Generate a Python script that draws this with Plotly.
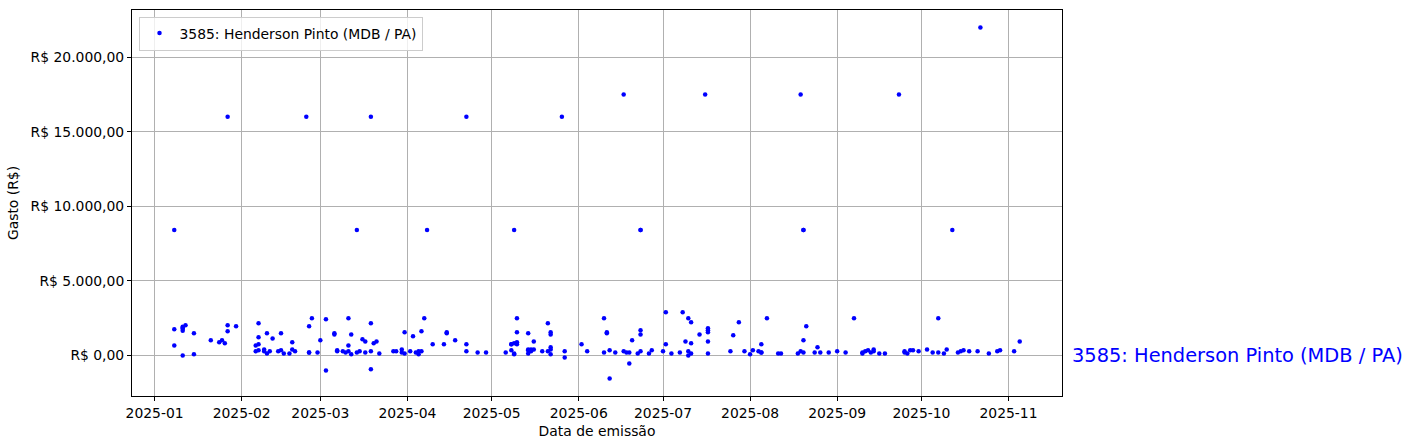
import plotly.graph_objects as go
import pandas as pd

label = "3585: Henderson Pinto (MDB / PA)"

dates = [
    "2025-01-08", "2025-01-08", "2025-01-08", "2025-01-11", "2025-01-11", "2025-01-11", "2025-01-11",
    "2025-01-12", "2025-01-11", "2025-01-15", "2025-01-15", "2025-01-21", "2025-01-24", "2025-01-25",
    "2025-01-26", "2025-01-27", "2025-01-27", "2025-01-27", "2025-01-30",
    "2025-02-06", "2025-02-06", "2025-02-07", "2025-02-07", "2025-02-07", "2025-02-07", "2025-02-09",
    "2025-02-09", "2025-02-10", "2025-02-10", "2025-02-11", "2025-02-12", "2025-02-14", "2025-02-15",
    "2025-02-15", "2025-02-16", "2025-02-18", "2025-02-19", "2025-02-19", "2025-02-20", "2025-02-24",
    "2025-02-25", "2025-02-25", "2025-02-25", "2025-02-26", "2025-02-28",
    "2025-03-01", "2025-03-03", "2025-03-03", "2025-03-06", "2025-03-06", "2025-03-07", "2025-03-07",
    "2025-03-09", "2025-03-10", "2025-03-11", "2025-03-11", "2025-03-11", "2025-03-12", "2025-03-12",
    "2025-03-14", "2025-03-14", "2025-03-15", "2025-03-16", "2025-03-17", "2025-03-17", "2025-03-19",
    "2025-03-19", "2025-03-19", "2025-03-19", "2025-03-20", "2025-03-21", "2025-03-22", "2025-03-27",
    "2025-03-28", "2025-03-30", "2025-03-30", "2025-03-31", "2025-03-31",
    "2025-04-02", "2025-04-03", "2025-04-04", "2025-04-05", "2025-04-05", "2025-04-06", "2025-04-06",
    "2025-04-07", "2025-04-08", "2025-04-10", "2025-04-14", "2025-04-15", "2025-04-15", "2025-04-18",
    "2025-04-22", "2025-04-22", "2025-04-22", "2025-04-26", "2025-04-29",
    "2025-05-06", "2025-05-08", "2025-05-08", "2025-05-08", "2025-05-09", "2025-05-09", "2025-05-09",
    "2025-05-09", "2025-05-10", "2025-05-10", "2025-05-10", "2025-05-10", "2025-05-14", "2025-05-14",
    "2025-05-14", "2025-05-14", "2025-05-15", "2025-05-15", "2025-05-16", "2025-05-16", "2025-05-19",
    "2025-05-21", "2025-05-21", "2025-05-22", "2025-05-22", "2025-05-22", "2025-05-22", "2025-05-22",
    "2025-05-26", "2025-05-27", "2025-05-27",
    "2025-06-02", "2025-06-04", "2025-06-10", "2025-06-10", "2025-06-11", "2025-06-11", "2025-06-12",
    "2025-06-12", "2025-06-14", "2025-06-17", "2025-06-17", "2025-06-18", "2025-06-19", "2025-06-19",
    "2025-06-20", "2025-06-22", "2025-06-23", "2025-06-23", "2025-06-23", "2025-06-23", "2025-06-23",
    "2025-06-26", "2025-06-27",
    "2025-07-01", "2025-07-02", "2025-07-02", "2025-07-04", "2025-07-07", "2025-07-08", "2025-07-09",
    "2025-07-10", "2025-07-10", "2025-07-10", "2025-07-11", "2025-07-11", "2025-07-11", "2025-07-14",
    "2025-07-16", "2025-07-17", "2025-07-17", "2025-07-17", "2025-07-17", "2025-07-17", "2025-07-25",
    "2025-07-26", "2025-07-28", "2025-07-30",
    "2025-08-01", "2025-08-02", "2025-08-04", "2025-08-05", "2025-08-05", "2025-08-05", "2025-08-07",
    "2025-08-11", "2025-08-12", "2025-08-18", "2025-08-19", "2025-08-19", "2025-08-20", "2025-08-20",
    "2025-08-20", "2025-08-20", "2025-08-21", "2025-08-24", "2025-08-25", "2025-08-26", "2025-08-29",
    "2025-09-01", "2025-09-04", "2025-09-07", "2025-09-10", "2025-09-10", "2025-09-11", "2025-09-12",
    "2025-09-13", "2025-09-14", "2025-09-14", "2025-09-16", "2025-09-18", "2025-09-23", "2025-09-25",
    "2025-09-25", "2025-09-26", "2025-09-27", "2025-09-28", "2025-09-30",
    "2025-10-03", "2025-10-05", "2025-10-07", "2025-10-07", "2025-10-09", "2025-10-10", "2025-10-12",
    "2025-10-14", "2025-10-15", "2025-10-16", "2025-10-18", "2025-10-21", "2025-10-22", "2025-10-25",
    "2025-10-28", "2025-10-29",
    "2025-11-03", "2025-11-05",
]

values = [
    1730, 650, 8400, 1640, 1770, 1840, 1910,
    2000, -20, 1460, 50, 990, 860, 990,
    790, 16000, 2000, 1600, 1930,
    250, 650, 2135, 1190, 720, 320, 380,
    250, 1460, 110, 250, 1120, 250, 1460,
    320, 110, 110, 860, 380, 250, 16000,
    1930, 180, 180, 2470, 180,
    990, 2400, -1030, 1460, 1390, 250, 320,
    250, 180, 2470, 650, 250, 1390, 50,
    8400, 180, 250, 1060, 920, 180, 16000,
    2135, 250, -960, 790, 920, 110, 250,
    250, 380, 180, 1530, 110,
    250, 1260, 180, 250, 50, 250, 1600,
    2470, 8400, 720, 720, 1530, 1460, 990,
    16000, 720, 250, 180, 180,
    180, 720, 720, 320, 8400, 50, 790,
    110, 2470, 860, 1530, 720, 380, 320,
    1460, 110, 380, 250, 380, 920, 250,
    250, 2135, 1530, 1390, 520, 380, 50,
    16000, 250, -155,
    720, 250, 180, 2470, 1530, 1460, 320,
    -1570, 180, 17500, 250, 180, -560, 180,
    990, 110, 250, 8400, 8400, 1660, 1390,
    110, 320,
    250, 720, 2880, 110, 180, 2880, 920,
    2470, 250, -20, 110, 2200, 790, 1390,
    17500, 920, 1800, 1660, 1530, 110, 250,
    1330, 2200, 250,
    50, 320, 250, 180, 720, 180, 2470,
    110, 110, 110, 17500, 250, 180, 990,
    8400, 8400, 1930, 180, 520, 180, 180,
    250, 180, 2470, 110, 180, 250, 320,
    180, 380, 250, 110, 110, 17500, 180,
    250, 110, 320, 320, 250,
    380, 180, 180, 2470, 110, 380, 8400,
    180, 250, 320, 250, 250, 22000, 110,
    250, 320,
    250, 920,
]

y_tick_vals = [0, 5000, 10000, 15000, 20000]
y_tick_text = ["R$ 0,00", "R$ 5.000,00", "R$ 10.000,00", "R$ 15.000,00", "R$ 20.000,00"]

d = pd.to_datetime(dates)
dmin, dmax = d.min(), d.max()
xpad = (dmax - dmin) * 0.05
vmin, vmax = min(values), max(values)
ypad = (vmax - vmin) * 0.05

FONT = "DejaVu Sans"
BLUE = "#0000ff"

fig = go.Figure()
fig.add_trace(go.Scatter(
    x=dates, y=values, mode="markers", name=label,
    marker=dict(color=BLUE, size=4.5, line=dict(width=0)),
))

fig.update_layout(
    width=1412, height=448,
    margin=dict(l=132, r=350, t=10, b=52),
    paper_bgcolor="white", plot_bgcolor="white",
    font=dict(family=FONT, size=13.9, color="black"),
    showlegend=True,
    legend=dict(
        x=0.007, y=0.983, xanchor="left", yanchor="top",
        bgcolor="rgba(255,255,255,0.8)", bordercolor="#cccccc", borderwidth=1,
        font=dict(family=FONT, size=13.9, color="black"),
        tracegroupgap=0,
    ),
    xaxis=dict(
        title=dict(text="Data de emissão", font=dict(size=13.9), standoff=6),
        type="date",
        range=[dmin - xpad, dmax + xpad],
        tick0="2025-01-01", dtick="M1", tickformat="%Y-%m",
        showgrid=True, gridcolor="#b0b0b0", gridwidth=0.8,
        showline=True, linecolor="black", linewidth=1, mirror=True,
        ticks="outside", ticklen=4, tickcolor="black",
        zeroline=False,
    ),
    yaxis=dict(
        title=dict(text="Gasto (R$)", font=dict(size=13.9), standoff=8),
        range=[vmin - ypad, vmax + ypad],
        tickvals=y_tick_vals, ticktext=y_tick_text,
        showgrid=True, gridcolor="#b0b0b0", gridwidth=0.8,
        showline=True, linecolor="black", linewidth=1, mirror=True,
        ticks="outside", ticklen=4, tickcolor="black",
        zeroline=False,
    ),
)

fig.add_annotation(
    x=1, xref="paper", y=0, yref="y",
    text=label, showarrow=False, xanchor="left", yanchor="middle",
    xshift=8, font=dict(family=FONT, size=19.4, color=BLUE),
)

fig.write_html(
    "out.html",
    config={"displayModeBar": False},
    post_script="document.body.style.margin='0';document.body.style.padding='0';",
)
